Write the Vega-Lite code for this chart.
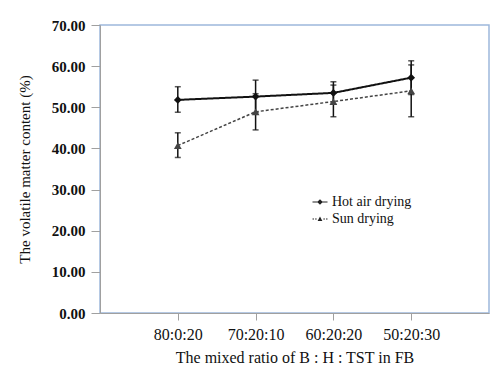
{
  "$schema": "https://vega.github.io/schema/vega-lite/v6.json",
  "width": 389,
  "height": 288,
  "autosize": {"type": "none"},
  "padding": {"left": 100, "top": 25, "right": 8, "bottom": 61},
  "background": "white",
  "config": {
    "view": {"stroke": "#9db8dc", "strokeWidth": 1.5},
    "font": "Liberation Serif",
    "axis": {"labelFont": "Liberation Serif", "titleFont": "Liberation Serif", "labelColor": "#111", "titleColor": "#111", "grid": false, "domainColor": "#a0a0a0", "tickColor": "#a0a0a0", "titleFontWeight": "normal"}
  },
  "data": {"values": [
    {"ratio": "80:0:20", "method": "Hot air drying", "value": 51.8, "lo": 48.8, "hi": 55.0},
    {"ratio": "70:20:10", "method": "Hot air drying", "value": 52.6, "lo": 48.7, "hi": 56.6},
    {"ratio": "60:20:20", "method": "Hot air drying", "value": 53.5, "lo": 50.8, "hi": 56.2},
    {"ratio": "50:20:30", "method": "Hot air drying", "value": 57.2, "lo": 53.1, "hi": 61.3},
    {"ratio": "80:0:20", "method": "Sun drying", "value": 40.7, "lo": 37.8, "hi": 43.8},
    {"ratio": "70:20:10", "method": "Sun drying", "value": 48.9, "lo": 44.5, "hi": 53.3},
    {"ratio": "60:20:20", "method": "Sun drying", "value": 51.4, "lo": 47.7, "hi": 55.4},
    {"ratio": "50:20:30", "method": "Sun drying", "value": 54.0, "lo": 47.7, "hi": 60.3}
  ]},
  "encoding": {
    "x": {"field": "ratio", "type": "ordinal", "sort": ["80:0:20", "70:20:10", "60:20:20", "50:20:30"],
      "scale": {"type": "point", "padding": 1},
      "axis": {"title": "The mixed ratio of B : H : TST in FB", "labelAngle": 0, "labelFontSize": 16, "titleFontSize": 16, "tickSize": 7, "labelPadding": 6, "titlePadding": 7}}
  },
  "resolve": {"scale": {"shape": "independent"}, "legend": {"shape": "independent"}},
  "layer": [
    {
      "mark": {"type": "rule", "strokeWidth": 1.5, "color": "#111"},
      "encoding": {
        "y": {"field": "lo", "type": "quantitative"},
        "y2": {"field": "hi"}
      }
    },
    {
      "mark": {"type": "tick", "size": 6, "thickness": 1.5, "color": "#111"},
      "encoding": {"y": {"field": "lo", "type": "quantitative"}}
    },
    {
      "mark": {"type": "tick", "size": 6, "thickness": 1.5, "color": "#111"},
      "encoding": {"y": {"field": "hi", "type": "quantitative"}}
    },
    {
      "mark": {"type": "line"},
      "encoding": {
        "y": {"field": "value", "type": "quantitative",
          "scale": {"domain": [0, 70], "nice": false, "zero": true},
          "axis": {"title": "The volatile  matter content  (%)", "values": [0, 10, 20, 30, 40, 50, 60, 70], "format": ".2f", "labelFontSize": 15, "labelFontWeight": "bold", "titleFontSize": 15, "tickSize": 9, "labelPadding": 6, "titlePadding": 19}},
        "color": {"field": "method", "type": "nominal", "scale": {"domain": ["Hot air drying", "Sun drying"], "range": ["#111111", "#444444"]}, "legend": null},
        "strokeWidth": {"field": "method", "type": "nominal", "scale": {"domain": ["Hot air drying", "Sun drying"], "range": [2, 1.5]}, "legend": null},
        "strokeDash": {"field": "method", "type": "nominal", "scale": {"domain": ["Hot air drying", "Sun drying"], "range": [[1, 0], [3, 2]]}, "legend": null}
      }
    },
    {
      "mark": {"type": "point", "filled": true, "opacity": 1},
      "encoding": {
        "y": {"field": "value", "type": "quantitative"},
        "shape": {"field": "method", "type": "nominal", "scale": {"domain": ["Hot air drying", "Sun drying"], "range": ["diamond", "triangle-up"]}, "legend": null},
        "color": {"field": "method", "type": "nominal", "legend": null},
        "size": {"value": 60}
      }
    },
    {
      "mark": {"type": "point", "filled": true, "opacity": 0, "color": "#222"},
      "encoding": {
        "y": {"field": "value", "type": "quantitative"},
        "shape": {"field": "method", "type": "nominal",
          "scale": {"domain": ["Hot air drying", "Sun drying"], "range": [
            "M-1,-0.08L1,-0.08L1,0.08L-1,0.08ZM-0.38,0L0,-0.38L0.38,0L0,0.38Z",
            "M-1,-0.06L-0.8,-0.06L-0.8,0.06L-1,0.06ZM-0.65,-0.06L-0.45,-0.06L-0.45,0.06L-0.65,0.06ZM0.45,-0.06L0.65,-0.06L0.65,0.06L0.45,0.06ZM0.8,-0.06L1,-0.06L1,0.06L0.8,0.06ZM-0.32,0.28L0,-0.32L0.32,0.28Z"]},
          "legend": {"title": null, "orient": "none", "legendX": 212, "legendY": 169, "labelFont": "Liberation Serif", "labelFontSize": 14, "labelColor": "#111", "symbolSize": 225, "rowPadding": 2, "labelOffset": 4, "symbolOpacity": 1, "symbolFillColor": "#222", "symbolStrokeColor": "#222", "symbolStrokeWidth": 1}}
      }
    }
  ]
}
